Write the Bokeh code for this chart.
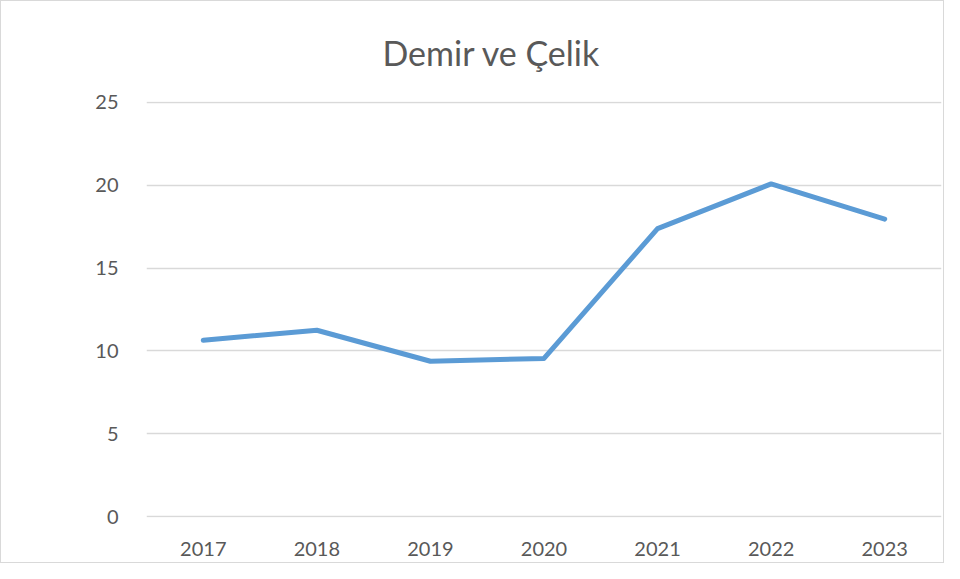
from bokeh.plotting import figure
from bokeh.embed import file_html
from bokeh.resources import INLINE
from bokeh.models import Range1d, FactorRange, SingleIntervalTicker

years = ["2017", "2018", "2019", "2020", "2021", "2022", "2023"]
values = [10.65, 11.25, 9.38, 9.55, 17.38, 20.07, 17.95]

p = figure(width=944, height=563, x_range=FactorRange(*years, range_padding=0),
           y_range=Range1d(-0.04, 25.04), output_backend="svg", toolbar_location=None,
           min_border_left=145, min_border_right=4, min_border_top=100, min_border_bottom=47)
p.title.text = "Demir ve Çelik"
p.title.align = "left"
p.title.text_font = "Lato"
p.title.text_font_size = "34px"
p.title.text_font_style = "normal"
p.title.text_color = "#595959"
p.title.offset = 236
p.title.standoff = 57

p.line(years, values, line_width=5, color="#5B9BD5", line_join="round", line_cap="round")

p.outline_line_color = None
p.xgrid.grid_line_color = None
p.ygrid.grid_line_color = "#D9D9D9"
p.ygrid.grid_line_width = 1.5
p.yaxis.ticker = SingleIntervalTicker(interval=5)
for ax in (p.xaxis, p.yaxis):
    ax.axis_line_color = None
    ax.major_tick_line_color = None
    ax.minor_tick_line_color = None
    ax.major_label_text_font = "Lato"
    ax.major_label_text_font_size = "20px"
    ax.major_label_text_color = "#595959"
p.yaxis.major_label_standoff = 22
p.xaxis.major_label_standoff = 18
p.styles = {"border": "1px solid #D9D9D9"}

open("out.html", "w").write(file_html(p, INLINE))
